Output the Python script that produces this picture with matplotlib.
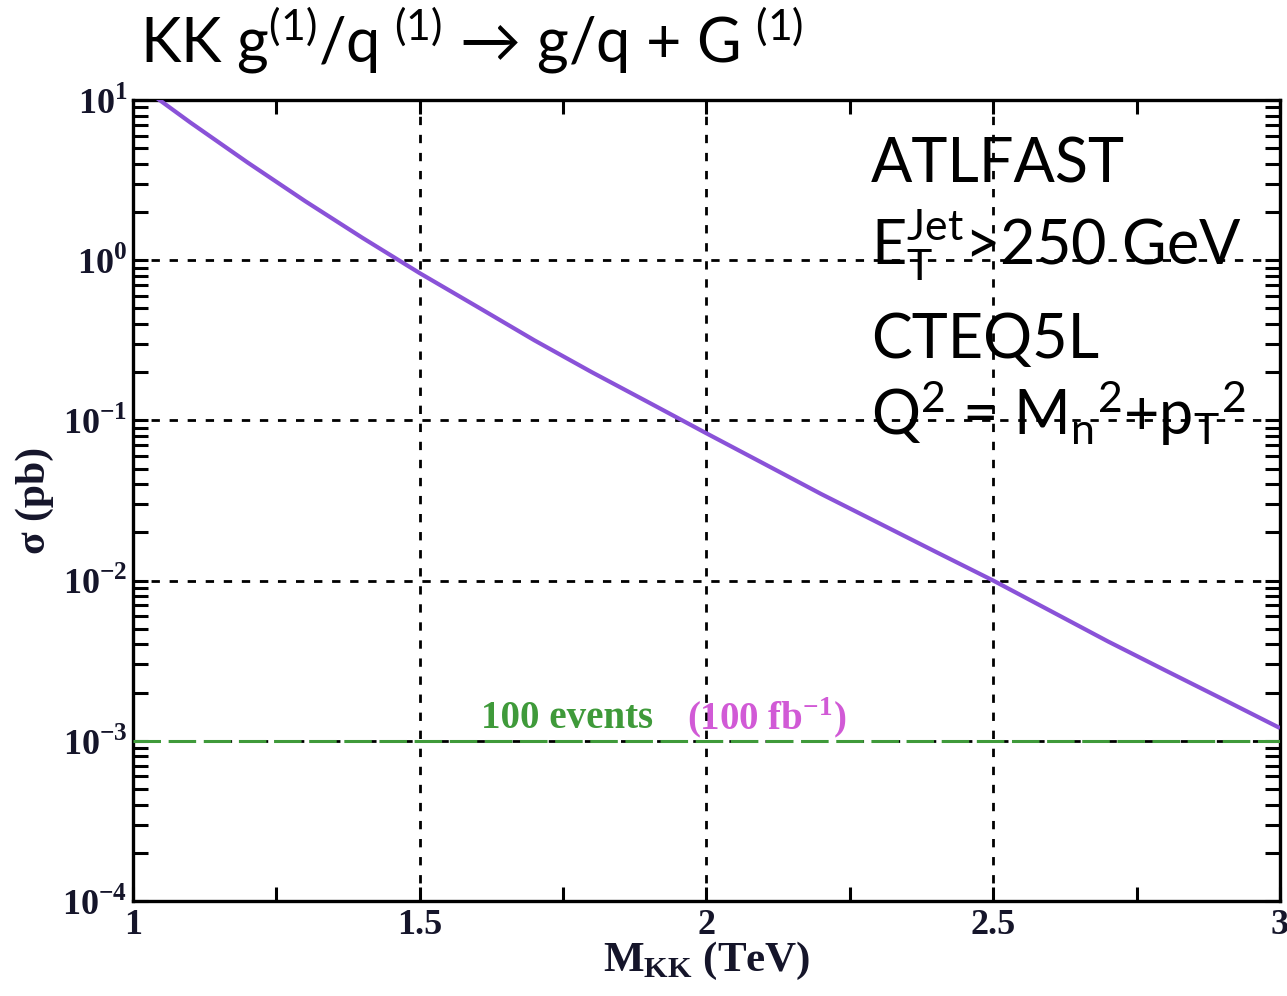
import numpy as np
import matplotlib
matplotlib.use("Agg")
import matplotlib.pyplot as plt
from matplotlib.ticker import FixedLocator, LogLocator, NullFormatter, FuncFormatter

plt.rcParams['font.family'] = ['Liberation Serif', 'DejaVu Sans']
plt.rcParams['mathtext.fontset'] = 'custom'
plt.rcParams['mathtext.rm'] = 'Liberation Serif:bold'
plt.rcParams['mathtext.bf'] = 'Liberation Serif:bold'
plt.rcParams['mathtext.sf'] = 'Lato:normal'
plt.rcParams['axes.unicode_minus'] = False

# Cross section vs KK mass
m_kk = [1.0, 1.1, 1.2, 1.3, 1.4, 1.5, 1.6, 1.7, 1.8, 1.9, 2.0,
        2.1, 2.2, 2.3, 2.4, 2.5, 2.6, 2.7, 2.8, 2.9, 3.0]
sigma_pb = [13.2, 7.24, 4.07, 2.34, 1.38, 0.83, 0.513, 0.316, 0.200, 0.129, 0.083,
            0.0537, 0.0347, 0.0229, 0.0151, 0.0100, 0.00646, 0.00417, 0.00275, 0.00182, 0.00120]

events_level = 1e-3          # 100 events at 100 fb^-1
x_major = [1.0, 1.5, 2.0, 2.5, 3.0]
x_minor = [1.25, 1.75, 2.25, 2.75]

fig = plt.figure(figsize=(12.87, 9.96), dpi=100)
ax = fig.add_axes([0.1033, 0.0954, 0.8913, 0.8042])

ax.plot(m_kk, sigma_pb, color='#8a52d8', lw=3.0, solid_capstyle='butt', zorder=4)
ax.axhline(events_level, color='#3f9a3a', lw=2.2, dashes=(9, 2.5), zorder=3)

ax.set_yscale('log')
ax.set_xlim(1, 3)
ax.set_ylim(1e-4, 10)

ax.xaxis.set_major_locator(FixedLocator(x_major))
ax.xaxis.set_minor_locator(FixedLocator(x_minor))
ax.xaxis.set_major_formatter(FuncFormatter(lambda v, p: f"{v:g}"))
ax.yaxis.set_major_locator(LogLocator(base=10))
ax.yaxis.set_minor_locator(LogLocator(base=10, subs=np.arange(2, 10)))
ax.yaxis.set_minor_formatter(NullFormatter())
ax.yaxis.set_major_formatter(FuncFormatter(lambda v, p: r"10$^{\mathrm{%d}}$" % round(np.log10(v))))

ax.tick_params(which='both', direction='in', top=True, right=True, width=2.2, colors='black',
               labelcolor='#15152a', labelsize=26)
ax.tick_params(axis='y', which='both', length=11, pad=4)
ax.tick_params(axis='x', which='both', length=10, pad=6)
for lab in ax.get_xticklabels() + ax.get_yticklabels():
    lab.set_fontweight('bold')

for s in ax.spines.values():
    s.set_linewidth(2.4)

ax.grid(True, which='major', color='black', lw=2.0, dashes=(3, 3.5))
ax.set_axisbelow(False)

ax.set_xlabel(r"M$_{\mathrm{KK}}$ (TeV)", size=31, weight='bold', color='#15152a', labelpad=-2)
ax.set_ylabel("σ (pb)", size=30, weight='bold', color='#15152a', labelpad=6)

ax.text(1.757, 1.38e-3, "100 events", color='#3f9a3a', size=28, weight='bold',
        ha='center', va='center')
ax.text(2.105, 1.38e-3, r"(100 fb$^{-1}$)", color='#d15ad6', size=28, weight='bold',
        ha='center', va='center')

fig.text(0.109, 0.937, r"KK g$\mathsf{^{(1)}}$/q$\mathsf{^{\ (1)}}$ → g/q + G$\mathsf{^{\ (1)}}$",
         family=['Lato', 'DejaVu Sans'], weight='normal', size=44, color='black', va='baseline')

ann = dict(family='Lato', weight='normal', size=44, color='black', va='baseline',
           transform=fig.transFigure)
fig.text(0.677, 1 - 182 / 996, "ATLFAST", **ann)
fig.text(0.677, 1 - 265 / 996, r"E$\mathsf{_{T}^{Jet}}$>250 GeV", **ann)
fig.text(0.677, 1 - 358 / 996, "CTEQ5L", **ann)
fig.text(0.677, 1 - 435 / 996,
         r"Q$\mathsf{^{2}}$ = M$\mathsf{_{n}}$$\mathsf{^{2}}$+p$\mathsf{_{T}}$$\mathsf{^{2}}$", **ann)

fig.savefig("out.png", dpi=100)
